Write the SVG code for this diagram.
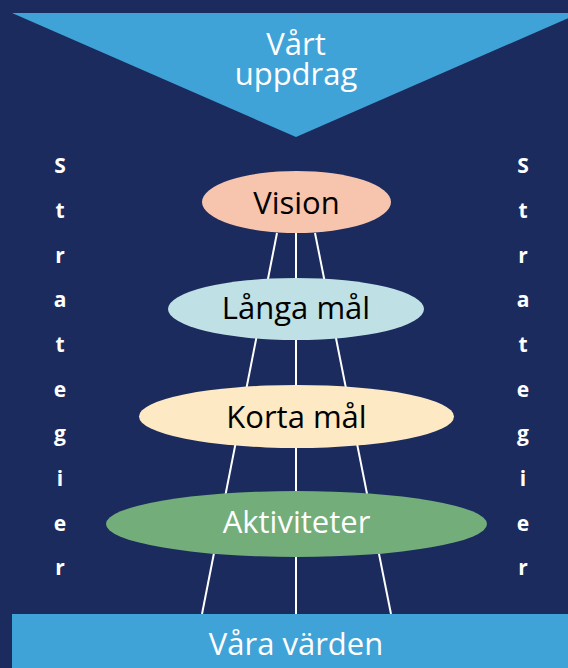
<svg xmlns="http://www.w3.org/2000/svg" width="568" height="668" viewBox="0 0 568 668">
  <style>
    text { font-family: "Open Sans", "Noto Sans", "DejaVu Sans", sans-serif; text-anchor: middle; }
    .label { font-size: 31px; }
    .dark { fill: #000000; }
    .light { fill: #ffffff; }
    .side { font-size: 21px; font-weight: bold; fill: #ffffff; }
    .link { stroke: #ffffff; stroke-width: 2; fill: none; }
  </style>
  <rect x="0" y="0" width="568" height="668" fill="#1b2b5e"/>

  <!-- connectors behind the ellipses -->
  <g id="connectors">
    <line class="link" x1="277" y1="233" x2="202" y2="614"/>
    <line class="link" x1="296" y1="233" x2="296" y2="614"/>
    <line class="link" x1="315" y1="233" x2="391" y2="614"/>
  </g>

  <g id="uppdrag">
    <polygon points="12,13 580,13 296,137" fill="#40a3d8"/>
    <text class="label light" x="296" y="55">Vårt<tspan x="296" dy="30">uppdrag</tspan></text>
  </g>

  <g id="vision">
    <ellipse cx="296.5" cy="202" rx="94.5" ry="31" fill="#f7c4ae"/>
    <text class="label dark" x="296.5" y="214">Vision</text>
  </g>

  <g id="langa-mal">
    <ellipse cx="296" cy="309" rx="128" ry="31" fill="#bfe1e6"/>
    <text class="label dark" x="296" y="319">Långa mål</text>
  </g>

  <g id="korta-mal">
    <ellipse cx="296.5" cy="416.5" rx="157.5" ry="31.5" fill="#fde9c3"/>
    <text class="label dark" x="296.5" y="428">Korta mål</text>
  </g>

  <g id="aktiviteter">
    <ellipse cx="296.5" cy="524" rx="190.5" ry="33" fill="#73ad7a"/>
    <text class="label light" x="296.5" y="533">Aktiviteter</text>
  </g>

  <g id="varden">
    <rect x="12" y="614" width="556" height="54" fill="#40a3d8"/>
    <text class="label light" x="296" y="655">Våra värden</text>
  </g>

  <g id="strategier-left">
    <text class="side" x="60" y="173">S</text>
    <text class="side" x="60" y="218">t</text>
    <text class="side" x="60" y="263">r</text>
    <text class="side" x="60" y="307">a</text>
    <text class="side" x="60" y="352">t</text>
    <text class="side" x="60" y="397">e</text>
    <text class="side" x="60" y="441">g</text>
    <text class="side" x="60" y="486">i</text>
    <text class="side" x="60" y="531">e</text>
    <text class="side" x="60" y="575">r</text>
  </g>

  <g id="strategier-right">
    <text class="side" x="523" y="173">S</text>
    <text class="side" x="523" y="218">t</text>
    <text class="side" x="523" y="263">r</text>
    <text class="side" x="523" y="307">a</text>
    <text class="side" x="523" y="352">t</text>
    <text class="side" x="523" y="397">e</text>
    <text class="side" x="523" y="441">g</text>
    <text class="side" x="523" y="486">i</text>
    <text class="side" x="523" y="531">e</text>
    <text class="side" x="523" y="575">r</text>
  </g>
</svg>
